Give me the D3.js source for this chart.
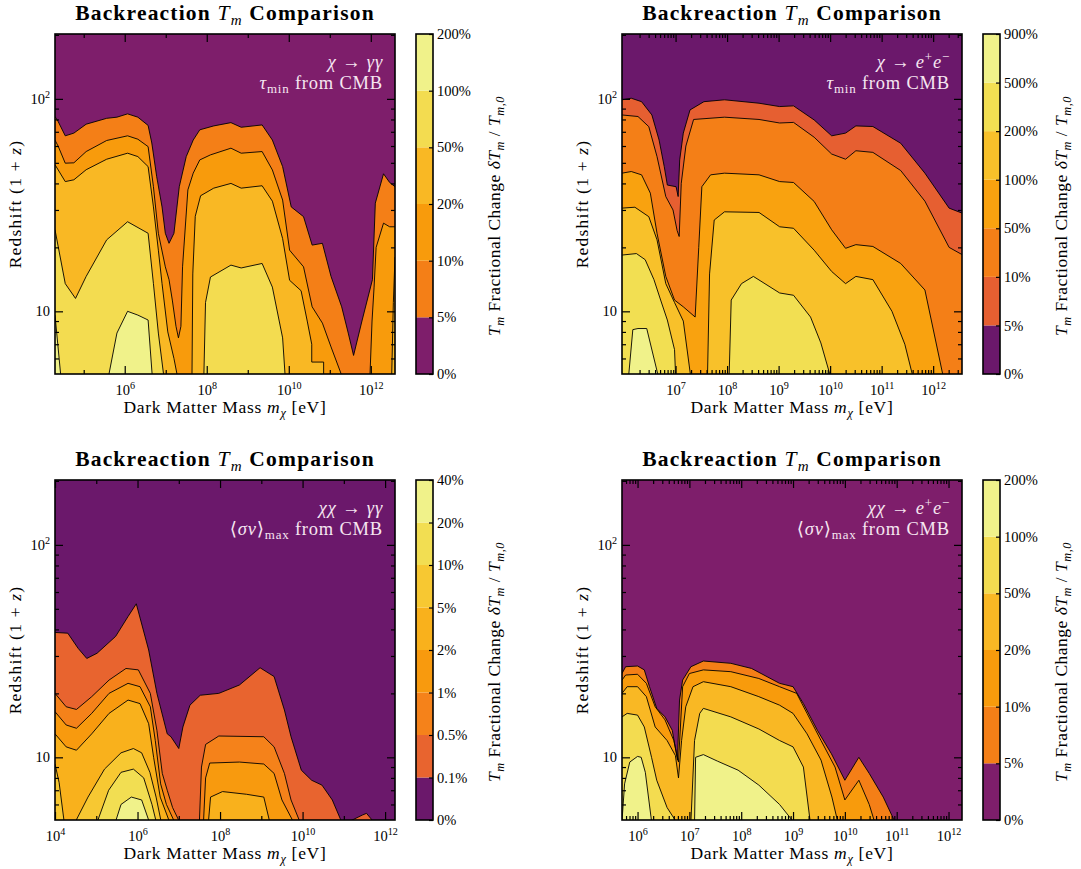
<!DOCTYPE html>
<html>
<head>
<meta charset="utf-8">
<script src="https://cdn.jsdelivr.net/npm/d3@7"></script>
<style>
  body { margin: 0; background: #fff; }
  text { font-family: 'Liberation Serif', 'DejaVu Serif', serif; fill: #000; }
</style>
</head>
<body>
<svg id="fig" width="1081" height="869"></svg>
<script>
// ---------- data: points are [log10(m_chi / eV), 1+z] ----------
const redshiftRange = [5.07, 202];
const redshiftMajor = [10, 100];
const redshiftMinor = [6, 7, 8, 9, 20, 30, 40, 50, 60, 70, 80, 90, 200];

// chi -> gamma gamma, tau_min from CMB
const decayGGMass = [4.30, 12.59];
const decayGGTicks = [6, 8, 10, 12];
const decayGGLevels = ['0%', '5%', '10%', '20%', '50%', '100%', '200%'];
const decayGGBounds = [
  [[[4.30,82.6],[4.38,78],[4.55,67],[4.76,69],[5.06,76],[5.56,81],[5.81,82],[6.07,85],[6.32,82],[6.57,75],[6.66,62],[6.78,43],[6.91,31],[6.99,23.3],[7.08,20.9],[7.20,23.3],[7.33,38.6],[7.50,53.5],[7.67,64],[7.83,71.5],[8.17,74.6],[8.59,77.3],[8.84,73.5],[9.35,75.4],[9.60,64],[9.85,48],[10.06,31],[10.36,27.9],[10.57,20.5],[10.82,20.9],[11.03,14.6],[11.29,10.5],[11.45,7.9],[11.58,6.2],[11.79,9.1],[12.04,14.1],[12.11,32.3],[12.31,44.4],[12.46,40.4],[12.59,38.6]]],
  [[[4.30,64],[4.38,59.7],[4.55,49.8],[4.76,50],[5.06,56.5],[5.56,63.7],[6.07,67],[6.32,64.6],[6.57,59.6],[6.70,38.6],[6.82,23.3],[6.99,16.2],[7.08,14.1],[7.16,11.3],[7.25,8.5],[7.31,7.5],[7.37,8.5],[7.41,16.2],[7.54,37.3],[7.67,44.7],[7.83,51.6],[8.09,54.5],[8.59,58.6],[8.84,55.5],[9.35,56.5],[9.60,46.3],[9.85,33.4],[10.02,19.4],[10.36,16.2],[10.57,10.5],[10.82,8.8],[11.03,6.8],[11.29,5]],
   [[11.98,5],[12.03,9],[12.08,13],[12.13,20],[12.31,26],[12.46,25],[12.59,25]]],
  [[[4.30,49],[4.55,40.8],[4.76,41.6],[5.06,46.4],[5.56,52],[6.07,55.5],[6.32,53.5],[6.57,48],[6.70,31],[6.82,19.4],[6.91,13.5],[7.05,8],[7.2,6],[7.28,5]],
   [[7.64,5],[7.66,15],[7.72,28],[7.85,35],[8.17,38],[8.59,40],[8.84,38],[9.35,39],[9.6,33],[9.85,22],[10.02,14],[10.3,12.5],[10.45,9],[10.56,7],[10.56,5.77],[10.85,5.77],[10.85,5]],
   [[12.51,5],[12.55,11],[12.59,18]]],
  [[[4.30,24.2],[4.55,13.5],[4.80,11.5],[5.06,14.6],[5.56,21.7],[6.07,26.4],[6.57,23.3],[6.70,13.5],[6.82,7.9],[6.95,5]],
   [[7.93,5],[7.97,11],[8.09,14.5],[8.59,16.5],[8.84,16],[9.35,16.8],[9.60,13],[9.85,7.5],[9.91,5]]],
  [[[4.30,9.6],[4.44,5]],
   [[5.61,5],[5.81,7.9],[6.07,10],[6.32,9.6],[6.57,9.1],[6.67,5]]]
];

// chi -> e+ e-, tau_min from CMB
const decayEEMass = [5.96, 12.56];
const decayEETicks = [7, 8, 9, 10, 11, 12];
const decayEELevels = ['0%', '5%', '10%', '50%', '100%', '200%', '500%', '900%'];
const decayEEBounds = [
  [[[5.96,99],[6.14,100.7],[6.34,97],[6.54,84],[6.68,64],[6.78,48],[6.84,39.3],[7.01,38.6],[7.05,34.7],[7.08,51.6],[7.15,69],[7.28,88.7],[7.55,97],[7.95,99],[8.62,95.4],[9.02,92],[9.29,92.7],[9.69,79.6],[10.03,67],[10.30,69],[10.50,74.6],[10.83,74.1],[11.37,61.8],[11.84,44.7],[12.31,30.6],[12.56,29]]],
  [[[5.96,84],[6.27,82.6],[6.48,74],[6.64,53.5],[6.81,34.7],[6.95,30],[7.03,24],[7.07,22.5],[7.11,40],[7.2,60],[7.35,80],[7.95,82],[8.62,80],[9.02,77],[9.29,77.5],[9.69,66],[10.03,55],[10.30,52],[10.50,57],[10.83,56],[11.37,46],[11.84,33],[12.31,20],[12.56,18.5]]],
  [[[5.96,44.7],[6.14,45.5],[6.34,43.9],[6.51,36],[6.64,23.3],[6.81,14.6],[6.98,11.3],[7.15,10.5],[7.38,9.4],[7.45,20],[7.51,38.6],[7.68,43.9],[7.95,44.7],[8.62,43.9],[9.02,40.8],[9.29,40.4],[9.69,32.9],[10.03,24.2],[10.30,19.8],[10.50,20.6],[10.83,20.2],[11.37,16.8],[11.84,12.6],[12.19,5]]],
  [[[5.96,30.6],[6.21,30.9],[6.48,27.9],[6.64,21.7],[6.81,13.5],[6.98,11],[7.15,9],[7.29,5]],
   [[7.62,5],[7.66,15],[7.75,26.9],[7.95,29.4],[8.62,29.2],[9.02,25],[9.29,24.6],[9.69,19.4],[10.03,15.4],[10.30,13.5],[10.50,14.6],[10.83,14.1],[11.2,10],[11.45,7],[11.6,5]]],
  [[[5.96,18.4],[6.24,18.7],[6.41,17.5],[6.58,14.1],[6.71,11.3],[6.84,9.1],[6.98,6.6],[7.0,5]],
   [[8.04,5],[8.08,11.3],[8.28,13.5],[8.51,14.6],[9.02,12.2],[9.29,11.9],[9.62,9.4],[9.82,7.1],[10.0,5]]],
  [[[6.09,5],[6.17,8.2],[6.27,8.3],[6.44,8.3],[6.66,5]]]
];

// chi chi -> gamma gamma, <sigma v>_max from CMB
const annGGMass = [4.0, 12.24];
const annGGTicks = [4, 6, 8, 10, 12];
const annGGLevels = ['0%', '0.1%', '0.5%', '1%', '2%', '5%', '10%', '20%', '40%'];
const annGGBounds = [
  [[[4.0,38.7],[4.31,38.4],[4.56,32.6],[4.77,29.2],[5.02,30.9],[5.47,37.1],[5.77,46],[5.97,52.8],[6.27,32],[6.47,20],[6.72,12.9],[6.81,12.5],[7.0,11],[7.1,13.9],[7.27,17.6],[7.52,19.6],[7.97,20],[8.47,21.9],[8.97,26.4],[9.31,24],[9.56,16.7],[9.72,12.5],[9.97,8.7],[10.22,7.8],[10.47,7.4],[10.72,6.3],[10.94,5]],
   [[11.14,5],[11.45,5.35],[11.55,5.45],[11.71,5]]],
  [[[4.0,20],[4.27,17.3],[4.52,16.8],[4.89,19.3],[5.31,23.1],[5.72,26.2],[6.02,25.8],[6.31,20],[6.47,13.4],[6.6,8.4],[6.72,7.0],[6.85,5.8],[7.01,5]],
   [[7.5,5],[7.55,9],[7.65,11.5],[7.97,12.6],[9.06,12.5],[9.31,11.2],[9.56,8.4],[9.72,6.3],[9.93,5]]],
  [[[4.0,16.4],[4.27,14.2],[4.52,13.7],[4.89,16.1],[5.31,20],[5.77,22.3],[6.06,21.5],[6.31,17.3],[6.43,12],[6.56,7.5],[6.7,6],[6.89,5]],
   [[7.6,5],[7.65,8],[7.75,9.4],[8.47,9.5],[9.06,9.3],[9.31,8.4],[9.5,6.3],[9.77,5]]],
  [[[4.0,12.9],[4.27,11.2],[4.52,10.8],[4.89,12.9],[5.31,16.1],[5.77,18.6],[6.06,17.9],[6.27,14.4],[6.39,10],[6.55,6.5],[6.77,5]],
   [[7.72,5],[7.77,6.5],[8.06,6.9],[8.64,6.7],[9.06,6.5],[9.2,5]]],
  [[[4.0,9.3],[4.1,7.6],[4.22,5]],
   [[4.5,5],[4.8,6.5],[5.2,8.8],[5.6,10.5],[5.9,11],[6.1,10.5],[6.3,8.5],[6.45,6.5],[6.57,5]]],
  [[[5.03,5],[5.3,7],[5.6,8.5],[5.9,8.8],[6.15,8],[6.35,6],[6.45,5]]],
  [[[5.47,5],[5.6,6],[5.85,6.5],[6.1,6.3],[6.28,5]]]
];

// chi chi -> e+ e-, <sigma v>_max from CMB
const annEEMass = [5.70, 12.26];
const annEETicks = [6, 7, 8, 9, 10, 11, 12];
const annEELevels = ['0%', '5%', '10%', '20%', '50%', '100%', '200%'];
const annEEBounds = [
  [[[5.70,24.8],[5.77,26.7],[6.0,26.9],[6.13,25.8],[6.23,21.5],[6.37,17],[6.53,15.5],[6.67,13.4],[6.77,9.7],[6.81,18.6],[6.87,23.1],[7.03,26.7],[7.27,28.4],[7.80,27.7],[8.20,26.2],[8.74,22.3],[9.0,21.5],[9.20,17.9],[9.47,13.4],[9.74,10.4],[10.0,7.8],[10.27,10],[10.47,8.4],[10.74,6.5],[10.96,5]]],
  [[[5.70,23.1],[5.77,24.4],[6.0,24.6],[6.17,22.3],[6.34,17.3],[6.53,15],[6.70,12],[6.79,9.5],[6.87,21.5],[7.0,24.8],[7.27,25.8],[7.80,25.3],[8.34,23.5],[8.74,21.5],[9.07,20],[9.27,16.1],[9.54,12],[9.81,9],[10.0,6.3],[10.27,7.8],[10.47,6],[10.57,5]]],
  [[[5.70,20],[5.80,21.5],[6.0,21.5],[6.17,19.3],[6.34,13.9],[6.57,12],[6.73,10.2],[6.79,8],[6.85,12],[6.93,17.3],[7.07,21.5],[7.27,22.7],[7.80,21.5],[8.34,19.3],[8.74,17.6],[9.0,16.1],[9.27,12.9],[9.54,9.7],[9.75,6.5],[9.86,5]]],
  [[[5.70,15.5],[5.80,16.1],[6.0,15.8],[6.13,13.9],[6.27,10],[6.37,7.8],[6.57,5.8],[6.74,5]],
   [[7.03,5],[7.1,12],[7.20,16.1],[7.27,17],[7.80,15.5],[8.34,13.6],[8.74,12],[9.0,11.2],[9.2,9],[9.33,5]]],
  [[[5.70,5],[5.75,7.5],[5.85,9.5],[6.0,10.1],[6.07,10],[6.15,8.5],[6.27,5]],
   [[7.10,5],[7.12,10],[7.27,10.3],[7.54,9.6],[7.94,8.7],[8.34,7.4],[8.74,6],[9.0,5]]]
];

// ---------- drawing ----------
const size = 340;
const svg = d3.select('#fig');

const warm = ['#f47f17', '#f89b0c', '#f9b824', '#f3dc50', '#f0f28a'];
const panels = [
  { x0: 55, y0: 34, mass: decayGGMass, ticks: decayGGTicks, levels: decayGGLevels, bounds: decayGGBounds,
    colors: ['#7e1e6b'].concat(warm),
    note1: [['χ → γγ', 'i']], note2: [['τ', 'i'], ['min', 'b'], [' from CMB', '']] },
  { x0: 622, y0: 34, mass: decayEEMass, ticks: decayEETicks, levels: decayEELevels, bounds: decayEEBounds,
    colors: ['#6b186b', '#e65f31', '#f47f17', '#f9a20f', '#f8c12a', '#f2df52', '#f0f28a'],
    note1: [['χ → ', 'i'], ['e', 'i'], ['+', 'p'], ['e', 'i'], ['−', 'p']], note2: [['τ', 'i'], ['min', 'b'], [' from CMB', '']] },
  { x0: 55, y0: 480, mass: annGGMass, ticks: annGGTicks, levels: annGGLevels, bounds: annGGBounds,
    colors: ['#6b186b', '#e8642f', '#f5821a', '#f89a0e', '#f9b11c', '#f7c832', '#f2de52', '#f0f28a'],
    note1: [['χχ → γγ', 'i']], note2: [['⟨', ''], ['σv', 'i'], ['⟩', ''], ['max', 'b'], [' from CMB', '']] },
  { x0: 622, y0: 480, mass: annEEMass, ticks: annEETicks, levels: annEELevels, bounds: annEEBounds,
    colors: ['#7e1e6b'].concat(warm),
    note1: [['χχ → ', 'i'], ['e', 'i'], ['+', 'p'], ['e', 'i'], ['−', 'p']], note2: [['⟨', ''], ['σv', 'i'], ['⟩', ''], ['max', 'b'], [' from CMB', '']] }
];

// text with italic / subscript / superscript pieces
function rich(sel, parts, fs) {
  let shift = 0;
  parts.forEach(([str, st]) => {
    const t = sel.append('tspan').text(str);
    const target = st.includes('b') ? 0.24 * fs : st.includes('p') ? -0.4 * fs : 0;
    if (target !== shift) { t.attr('dy', target - shift); shift = target; }
    if (st.includes('i')) t.attr('font-style', 'italic');
    if (st.includes('b') || st.includes('p')) t.attr('font-size', 0.7 * fs);
  });
  return sel;
}

panels.forEach((p, idx) => {
  const g = svg.append('g').attr('transform', `translate(${p.x0},${p.y0})`);
  const x = d3.scaleLog().domain(p.mass.map(v => 10 ** v)).range([0, size]);
  const y = d3.scaleLog().domain(redshiftRange).range([size, 0]);

  g.append('clipPath').attr('id', 'clip' + idx)
    .append('rect').attr('width', size).attr('height', size);

  const body = g.append('g').attr('clip-path', `url(#clip${idx})`);
  body.append('rect').attr('width', size).attr('height', size).attr('fill', p.colors[0]);

  const line = d3.line().x(d => x(10 ** d[0])).y(d => y(d[1]));

  // filled bands, lowest level first
  p.bounds.forEach((curves, k) => {
    curves.forEach(c => {
      const poly = c.concat([[c[c.length - 1][0], 4], [c[0][0], 4]]);
      body.append('path').attr('d', line(poly) + 'Z').attr('fill', p.colors[k + 1]);
    });
  });
  // contour lines
  p.bounds.forEach(curves => {
    curves.forEach(c => {
      body.append('path').attr('d', line(c)).attr('fill', 'none')
        .attr('stroke', '#000').attr('stroke-width', 0.9).attr('stroke-linejoin', 'round');
    });
  });

  // minor mass ticks
  const decades = d3.range(Math.floor(p.mass[0]), Math.ceil(p.mass[1]) + 1);
  const inside = v => v >= 10 ** p.mass[0] && v <= 10 ** p.mass[1];
  let xMinor;
  if (p.ticks.length > 5) {
    xMinor = decades.flatMap(e => d3.range(2, 10).map(k => k * 10 ** e)).filter(inside);
  } else {
    xMinor = decades.filter(e => !p.ticks.includes(e)).map(e => 10 ** e).filter(inside);
  }
  const xMajor = p.ticks.map(e => 10 ** e);

  const tidy = a => a.call(s => s.select('.domain').remove())
    .call(s => s.selectAll('line').attr('stroke-width', 1.2));

  g.append('g').attr('transform', `translate(0,${size})`)
    .call(d3.axisBottom(x).tickValues(xMinor).tickSize(-4).tickFormat('')).call(tidy);
  g.append('g')
    .call(d3.axisTop(x).tickValues(xMinor).tickSize(-4).tickFormat('')).call(tidy);
  g.append('g')
    .call(d3.axisTop(x).tickValues(xMajor).tickSize(-8).tickFormat('')).call(tidy);
  const xb = g.append('g').attr('transform', `translate(0,${size})`)
    .call(d3.axisBottom(x).tickValues(xMajor).tickSize(-8).tickPadding(6).tickFormat('')).call(tidy);
  xb.selectAll('.tick text').each(function (d) {
    const t = d3.select(this).attr('font-size', 14.5).attr('dy', '1.05em').attr('fill', '#000');
    rich(t, [['10', ''], [String(Math.round(Math.log10(d))), 'p']], 14.5);
  });

  g.append('g')
    .call(d3.axisLeft(y).tickValues(redshiftMinor).tickSize(-4).tickFormat('')).call(tidy);
  g.append('g').attr('transform', `translate(${size},0)`)
    .call(d3.axisRight(y).tickValues(redshiftMinor).tickSize(-4).tickFormat('')).call(tidy);
  g.append('g').attr('transform', `translate(${size},0)`)
    .call(d3.axisRight(y).tickValues(redshiftMajor).tickSize(-8).tickFormat('')).call(tidy);
  const yl = g.append('g')
    .call(d3.axisLeft(y).tickValues(redshiftMajor).tickSize(-8).tickPadding(5).tickFormat('')).call(tidy);
  yl.selectAll('.tick text').each(function (d) {
    const t = d3.select(this).attr('font-size', 14.5).attr('fill', '#000');
    if (d === 10) rich(t, [['10', '']], 14.5);
    else rich(t, [['10', ''], ['2', 'p']], 14.5);
  });

  g.append('rect').attr('width', size).attr('height', size)
    .attr('fill', 'none').attr('stroke', '#000').attr('stroke-width', 1.6);

  // titles and labels
  rich(g.append('text').attr('x', size / 2).attr('y', -14).attr('text-anchor', 'middle')
    .attr('font-size', 21.5).attr('font-weight', 'bold').attr('letter-spacing', 1.2),
    [['Backreaction ', ''], ['T', 'i'], ['m', 'ib'], [' Comparison', '']], 21.5);
  g.selectAll('text tspan[font-style="italic"]').attr('font-weight', 'normal');

  rich(g.append('text').attr('x', size / 2).attr('y', size + 39).attr('text-anchor', 'middle')
    .attr('font-size', 17.5).attr('letter-spacing', 0.7),
    [['Dark Matter Mass ', ''], ['m', 'i'], ['χ', 'ib'], [' [eV]', '']], 17.5);

  rich(g.append('text').attr('transform', `translate(-34,${size / 2}) rotate(-90)`).attr('text-anchor', 'middle')
    .attr('font-size', 17.5).attr('letter-spacing', 1.2),
    [['Redshift (1 + ', ''], ['z', 'i'], [')', '']], 17.5);

  const n1 = g.append('text').attr('x', size - 12).attr('y', 34).attr('text-anchor', 'end')
    .attr('font-size', 18.5).attr('letter-spacing', 0.8).style('fill', '#f6e6f1');
  rich(n1, p.note1, 18.5);
  const n2 = g.append('text').attr('x', size - 12).attr('y', 55).attr('text-anchor', 'end')
    .attr('font-size', 18.5).attr('letter-spacing', 0.8).style('fill', '#f6e6f1');
  rich(n2, p.note2, 18.5);

  // colour bar
  const nb = p.levels.length - 1;
  const cb = g.append('g').attr('transform', `translate(${size + 21},0)`);
  const yc = d3.scaleLinear().domain([0, nb]).range([size, 0]);
  cb.selectAll('rect.seg').data(d3.range(nb)).join('rect').attr('class', 'seg')
    .attr('x', 0).attr('width', 17).attr('y', i => yc(i + 1)).attr('height', i => yc(i) - yc(i + 1))
    .attr('fill', i => p.colors[i]);
  const ca = cb.append('g').attr('transform', 'translate(17,0)')
    .call(d3.axisRight(yc).tickValues(d3.range(nb + 1)).tickSize(-4).tickPadding(4).tickFormat(i => p.levels[i]))
    .call(tidy);
  ca.selectAll('.tick text').attr('font-size', 14.5).attr('fill', '#000')
    .attr('font-family', "'Liberation Serif', serif");
  cb.append('rect').attr('width', 17).attr('height', size)
    .attr('fill', 'none').attr('stroke', '#000').attr('stroke-width', 1.6);

  rich(cb.append('text').attr('transform', `translate(84,${size / 2 + 12}) rotate(-90)`).attr('text-anchor', 'middle')
    .attr('font-size', 17.5).attr('letter-spacing', 0.5),
    [['T', 'i'], ['m', 'ib'], [' Fractional Change ', ''], ['δT', 'i'], ['m', 'ib'], [' / ', ''], ['T', 'i'], ['m,0', 'ib']], 17.5);
});
</script>
</body>
</html>
